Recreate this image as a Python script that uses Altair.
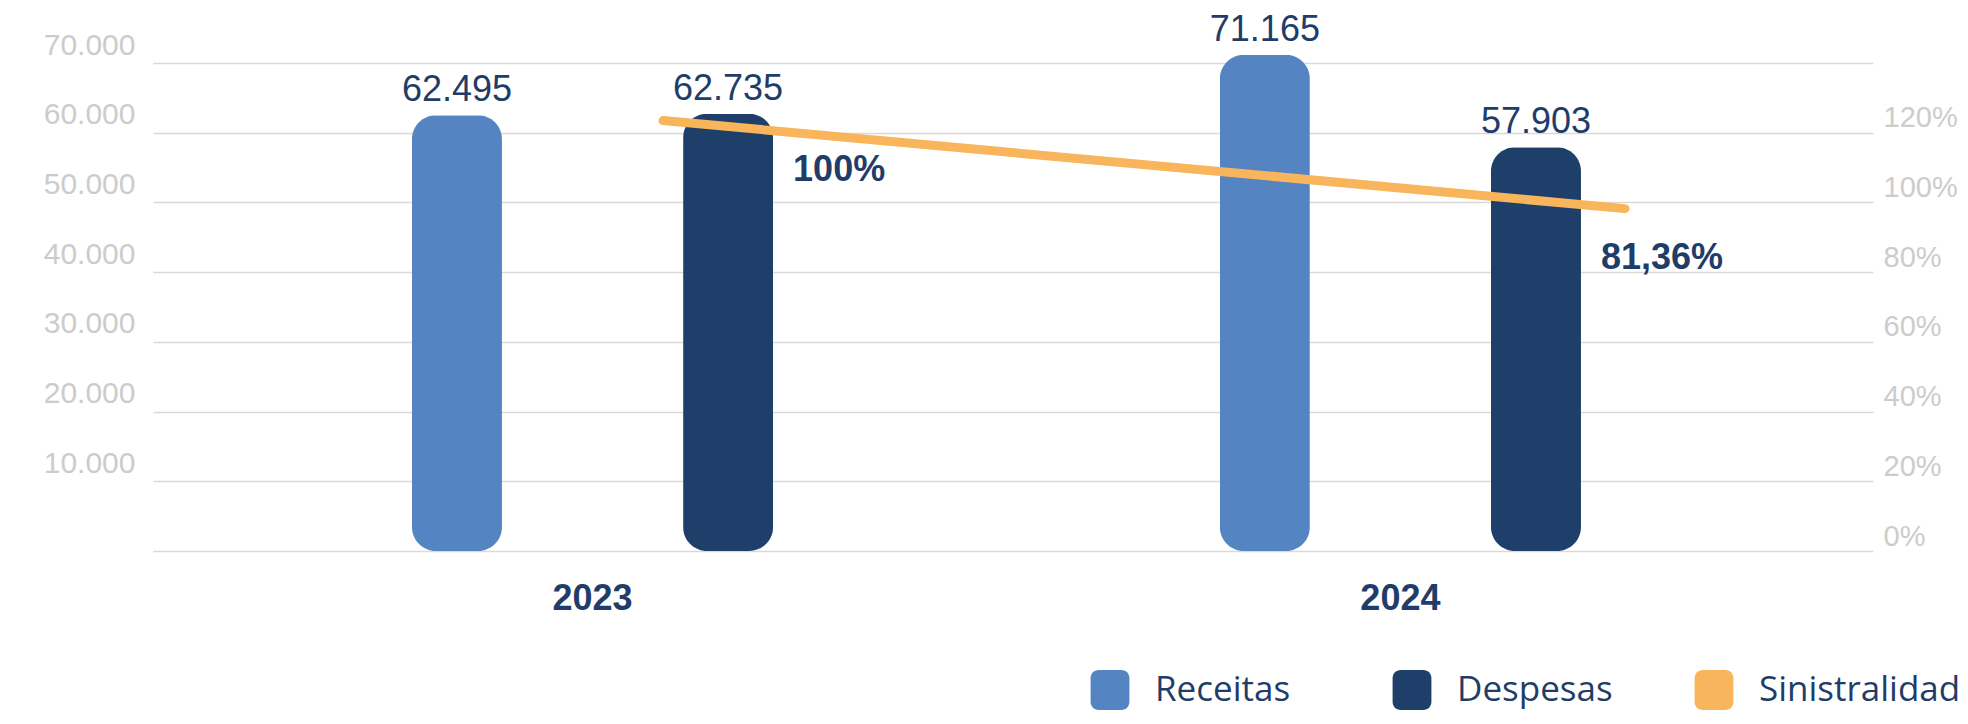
import altair as alt
import pandas as pd

# ---------------- data ----------------
anos = ["2023", "2024"]
series = ["Receitas", "Despesas"]
receitas = [62495, 71165]
despesas = [62735, 57903]
sinistralidade = [100, 81.36]
legend_series = ["Receitas", "Despesas", "Sinistralidade"]
left_ticks = [0, 10000, 20000, 30000, 40000, 50000, 60000, 70000]
right_ticks = [0, 20, 40, 60, 80, 100, 120]

# ---------------- style ----------------
LIGHT = "#5484C2"
DARK = "#1F3F6B"
ORANGE = "#F8B55B"
NAVY = "#1F3D68"
GRAY_TXT = "#CCCCCC"
GRID = "#D9D9D9"
FONT = "Liberation Sans"
LEG_FONT = "Open Sans"

bars_df = pd.DataFrame({
    "Ano": anos * 2,
    "Serie": ["Receitas"] * len(anos) + ["Despesas"] * len(anos),
    "Valor": receitas + despesas,
})
line_df = pd.DataFrame({"Ano": anos, "Serie": ["Despesas"] * len(anos), "Pct": sinistralidade})
right_df = pd.DataFrame({"Pct": right_ticks})

x_band = alt.Scale(type="band", paddingInner=0.553, paddingOuter=0.341, align=0.47)
xoff_scale = alt.Scale(domain=series, paddingInner=0.668, paddingOuter=0)
y_left = alt.Scale(domain=[0, 70000], nice=False, zero=True)
y_line = alt.Scale(domain=[8.85, 112.2], nice=False, zero=False)

rounded_square = (
    "M -0.97,-0.6 L -0.97,0.6 A 0.4,0.4 0 0 0 -0.57,1 L 0.57,1 "
    "A 0.4,0.4 0 0 0 0.97,0.6 L 0.97,-0.6 A 0.4,0.4 0 0 0 0.57,-1 "
    "L -0.57,-1 A 0.4,0.4 0 0 0 -0.97,-0.6 Z"
)

bars = alt.Chart(bars_df).mark_bar(cornerRadius=24).encode(
    x=alt.X(
        "Ano:N", sort=anos, scale=x_band,
        axis=alt.Axis(title=None, labelFont=FONT, labelFontSize=36, labelFontWeight="bold",
                      labelColor=NAVY, labelPadding=30, ticks=False, domain=False,
                      labelAngle=0, grid=False),
    ),
    xOffset=alt.XOffset("Serie:N", sort=series, scale=xoff_scale),
    y=alt.Y(
        "Valor:Q", scale=y_left,
        axis=alt.Axis(title=None, values=left_ticks,
                      labelExpr="datum.value == 0 ? '' : replace(format(datum.value, ','), ',', '.')",
                      grid=True, gridColor=GRID, gridWidth=1.5, ticks=False, domain=False,
                      labelFont=FONT, labelFontSize=30, labelColor=GRAY_TXT, labelPadding=18,
                      labelBaseline="alphabetic", labelOffset=-9),
    ),
    color=alt.Color(
        "Serie:N",
        scale=alt.Scale(domain=legend_series, range=[LIGHT, DARK, ORANGE]),
        legend=alt.Legend(title=None, orient="none", legendX=937, legendY=607,
                          direction="horizontal", symbolType=rounded_square, symbolSize=1600,
                          symbolStrokeWidth=0, symbolOpacity=1, labelFont=LEG_FONT,
                          labelFontSize=35, labelColor=NAVY, labelOffset=25,
                          columnPadding=16, gridAlign="all", labelLimit=400, padding=0),
    ),
)

bar_labels = alt.Chart(bars_df).transform_calculate(
    lbl="replace(format(datum.Valor, ','), ',', '.')"
).mark_text(font=FONT, fontSize=36, color=NAVY, baseline="alphabetic", dy=-14).encode(
    x=alt.X("Ano:N", sort=anos, scale=x_band),
    xOffset=alt.XOffset("Serie:N", sort=series, scale=xoff_scale),
    y=alt.Y("Valor:Q", scale=y_left),
    text="lbl:N",
)

line = alt.Chart(line_df).mark_line(color=ORANGE, strokeWidth=9, strokeCap="round").encode(
    x=alt.X("Ano:O", sort=anos, scale=alt.Scale(type="point", padding=0.394, align=0.6728), axis=None),
    y=alt.Y("Pct:Q", scale=y_line, axis=None),
)

pct_labels = alt.Chart(line_df).transform_calculate(
    lbl="replace(toString(datum.Pct), '.', ',') + '%'"
).mark_text(font=FONT, fontSize=36, fontWeight="bold", color=NAVY, align="left",
            baseline="alphabetic", dx=20, dy=60).encode(
    x=alt.X("Ano:N", sort=anos, scale=x_band, axis=None),
    xOffset=alt.XOffset("Serie:N", sort=series, scale=xoff_scale),
    y=alt.Y("Pct:Q", scale=y_line, axis=None),
    text="lbl:N",
)

right_axis = alt.Chart(right_df).mark_point(opacity=0).encode(
    y=alt.Y(
        "Pct:Q", scale=alt.Scale(domain=[0, 140], nice=False),
        axis=alt.Axis(orient="right", title=None, values=right_ticks,
                      labelExpr="datum.value + '%'", grid=False, ticks=False, domain=False,
                      labelFont=FONT, labelFontSize=29, labelColor=GRAY_TXT, labelPadding=10,
                      labelBaseline="alphabetic", labelOffset=-6),
    ),
)

chart = alt.layer(
    alt.layer(bars, bar_labels), line, pct_labels, right_axis
).resolve_scale(
    x="independent", y="independent", xOffset="independent"
).properties(
    width=1720, height=488,
    padding={"left": 145, "top": 55, "right": 87, "bottom": 161},
    autosize=alt.AutoSizeParams(type="none"),
).configure_view(stroke=None)

chart.save("out.html", embed_options={"renderer": "svg", "actions": False})
